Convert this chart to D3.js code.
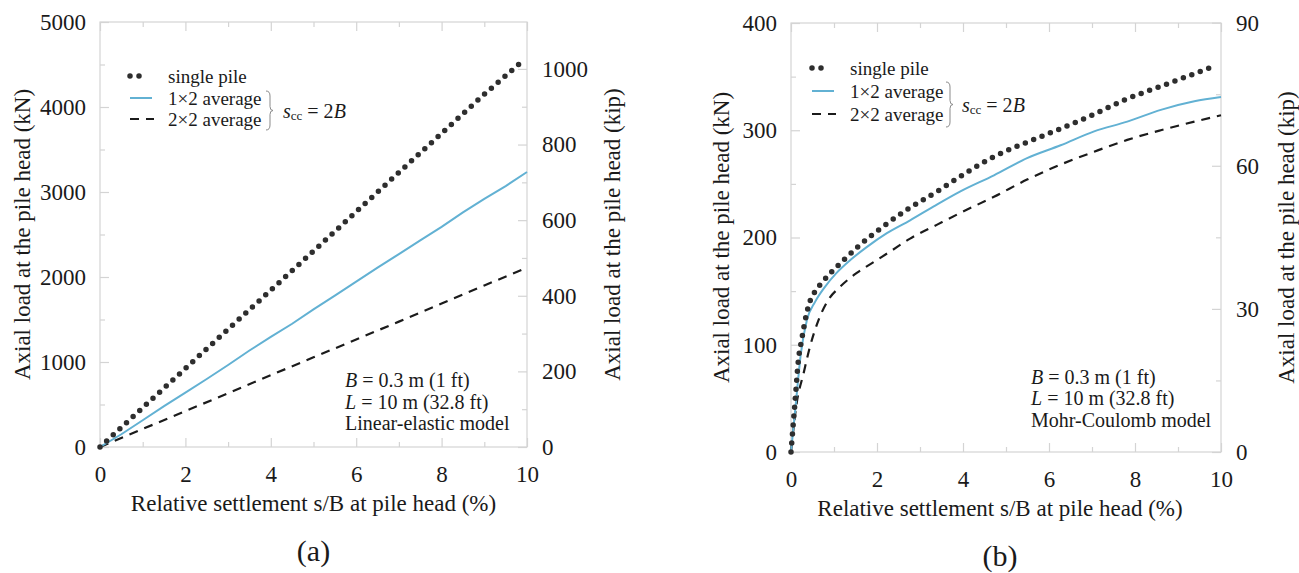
<!DOCTYPE html>
<html>
<head>
<meta charset="utf-8">
<script src="https://cdn.jsdelivr.net/npm/d3@7"></script>
<style>
  html, body { margin: 0; padding: 0; background: #fff; }
  svg { display: block; }
  svg text { font-family: 'Liberation Serif', serif !important; fill: #1a1a1a; }
</style>
</head>
<body>
<svg id="chart" width="1299" height="573" font-family="'Liberation Serif', serif"></svg>
<script>
// ---------------- DATA ----------------
// x: relative settlement s/B at pile head (%), y: axial load (kN)

// Panel (a) – Linear-elastic model
const aSingleX = [0, 1, 2, 3, 4, 5, 6, 7, 8, 9, 9.85];
const aSingleY = [0, 462, 924, 1386, 1845, 2305, 2768, 3230, 3690, 4150, 4520];
const aPairX = [0, 0.5, 1, 1.5, 2, 2.5, 3, 3.5, 4, 4.5, 5, 5.5, 6, 6.5, 7, 7.5, 8, 8.5, 9, 9.5, 10];
const aPairY = [0, 150, 315, 480, 640, 800, 965, 1135, 1295, 1450, 1620, 1780, 1945, 2110, 2270, 2430, 2590, 2760, 2920, 3070, 3235];
const aGroupX = [0, 1, 2, 3, 4, 5, 6, 7, 8, 9, 10];
const aGroupY = [0, 212, 422, 633, 845, 1055, 1265, 1475, 1688, 1900, 2110];

// Panel (b) – Mohr-Coulomb model
const bSingleX = [0, 0.05, 0.1, 0.17, 0.25, 0.33, 0.42, 0.55, 0.7, 0.9, 1.2, 1.6, 2.1, 2.7, 3.4, 4.1, 4.7, 5.5, 6.3, 7.0, 7.8, 8.6, 9.4, 9.8];
const bSingleY = [0, 25, 50, 85, 105, 123, 138, 149, 157, 166, 178, 193, 209, 226, 243, 261, 275, 289, 302, 314, 329, 341, 353, 359];
const bPairX = [0, 0.1, 0.23, 0.37, 0.56, 0.79, 1.06, 1.38, 1.76, 2.23, 2.77, 3.32, 3.94, 4.72, 5.49, 6.27, 7.05, 7.82, 8.6, 9.38, 10];
const bPairY = [0, 40, 92, 123, 140, 154, 167, 179, 191, 204, 216, 229, 243, 258, 274, 286, 299, 308, 319, 327, 331];
const bGroupX = [0, 0.13, 0.29, 0.44, 0.64, 0.87, 1.14, 1.53, 1.92, 2.31, 2.77, 3.4, 3.94, 4.72, 5.49, 6.27, 7.05, 7.82, 8.6, 9.38, 10];
const bGroupY = [0, 45, 73, 98, 123, 142, 154, 167, 177, 187, 199, 212, 223, 238, 254, 268, 280, 291, 300, 308, 314];

// Axis ticks
const xTicks = [0, 2, 4, 6, 8, 10];
const xMinor = [1, 3, 5, 7, 9];
const aKnTicks = [0, 1000, 2000, 3000, 4000, 5000];
const aKnMinor = [500, 1500, 2500, 3500, 4500];
const aKipTicks = [0, 200, 400, 600, 800, 1000];
const aKipMinor = [100, 300, 500, 700, 900];
const bKnTicks = [0, 100, 200, 300, 400];
const bKnMinor = [50, 150, 250, 350];
const bKipTicks = [0, 30, 60, 90];
const bKipMinor = [15, 45, 75];

const legendLabels = ["single pile", "1\u00d72 average", "2\u00d72 average"];
const KN_PER_KIP = 4.448;

// ---------------- DRAW ----------------
const FONT = "'Liberation Serif', serif";
const svg = d3.select("#chart");
svg.append("rect").attr("width", 1299).attr("height", 573).attr("fill", "#fff");

const FRAME = "#d4d4d4";

function txt(sel) {
  return sel.append("text").attr("font-family", FONT).style("font-family", FONT).attr("fill", "#1a1a1a");
}

function panel(cfg) {
  const g = svg.append("g");
  const x = d3.scaleLinear().domain([0, 10]).range([cfg.left, cfg.right]);
  const y = d3.scaleLinear().domain([0, cfg.yMax]).range([cfg.bottom, cfg.top]);
  const yk = d3.scaleLinear().domain([0, cfg.yMax / KN_PER_KIP]).range([cfg.bottom, cfg.top]);

  function styleAxis(sel, fs) {
    sel.attr("font-family", FONT);
    sel.select(".domain").remove();
    sel.selectAll(".tick line").attr("stroke", FRAME).attr("stroke-width", 1.2);
    sel.selectAll(".tick text").attr("font-size", fs).attr("fill", "#1a1a1a")
      .attr("font-family", FONT).style("font-family", FONT);
  }
  const tfs = 23;

  // frame
  g.append("rect").attr("x", cfg.left).attr("y", cfg.top)
    .attr("width", cfg.right - cfg.left).attr("height", cfg.bottom - cfg.top)
    .attr("fill", "none").attr("stroke", FRAME).attr("stroke-width", 1.2);

  // bottom
  g.append("g").attr("transform", `translate(0,${cfg.bottom})`)
    .call(d3.axisBottom(x).tickValues(xTicks).tickSize(-9).tickPadding(19).tickFormat(d3.format("d")))
    .call(s => styleAxis(s, tfs));
  g.append("g").attr("transform", `translate(0,${cfg.bottom})`)
    .call(d3.axisBottom(x).tickValues(xMinor).tickSize(-5).tickFormat(""))
    .call(s => styleAxis(s, tfs));
  // top
  g.append("g").attr("transform", `translate(0,${cfg.top})`)
    .call(d3.axisTop(x).tickValues(xTicks).tickSize(-9).tickFormat(""))
    .call(s => styleAxis(s, tfs));
  g.append("g").attr("transform", `translate(0,${cfg.top})`)
    .call(d3.axisTop(x).tickValues(xMinor).tickSize(-5).tickFormat(""))
    .call(s => styleAxis(s, tfs));
  // left
  g.append("g").attr("transform", `translate(${cfg.left},0)`)
    .call(d3.axisLeft(y).tickValues(cfg.knTicks).tickSize(-9).tickPadding(14).tickFormat(d3.format("d")))
    .call(s => styleAxis(s, tfs));
  g.append("g").attr("transform", `translate(${cfg.left},0)`)
    .call(d3.axisLeft(y).tickValues(cfg.knMinor).tickSize(-5).tickFormat(""))
    .call(s => styleAxis(s, tfs));
  // right (kip)
  g.append("g").attr("transform", `translate(${cfg.right},0)`)
    .call(d3.axisRight(yk).tickValues(cfg.kipTicks).tickSize(-9).tickPadding(15).tickFormat(d3.format("d")))
    .call(s => styleAxis(s, tfs));
  g.append("g").attr("transform", `translate(${cfg.right},0)`)
    .call(d3.axisRight(yk).tickValues(cfg.kipMinor).tickSize(-5).tickFormat(""))
    .call(s => styleAxis(s, tfs));

  // axis titles
  const midY = (cfg.top + cfg.bottom) / 2;
  txt(g).attr("transform", `translate(${cfg.leftTitleX},${midY}) rotate(-90)`)
    .attr("text-anchor", "middle").attr("dominant-baseline", "central")
    .attr("font-size", 23).text("Axial load at the pile head (kN)");
  txt(g).attr("transform", `translate(${cfg.rightTitleX},${midY}) rotate(-90)`)
    .attr("text-anchor", "middle").attr("dominant-baseline", "central")
    .attr("font-size", 23).text("Axial load at the pile head (kip)");
  txt(g).attr("x", (cfg.left + cfg.right) / 2 + cfg.xTitleShift).attr("y", cfg.bottom + 64)
    .attr("text-anchor", "middle").attr("font-size", 23)
    .text("Relative settlement s/B at pile head (%)");
  txt(g).attr("x", (cfg.left + cfg.right) / 2 + cfg.xTitleShift).attr("y", cfg.bottom + 114)
    .attr("text-anchor", "middle").attr("font-size", 30).text(cfg.tag);

  // series
  const line = d3.line().x(d => x(d[0])).y(d => y(d[1])).curve(cfg.curve);
  const zip = (xs, ys) => xs.map((v, i) => [v, ys[i]]);

  g.append("path").datum(zip(cfg.groupX, cfg.groupY)).attr("d", line)
    .attr("fill", "none").attr("stroke", "#1b1b1b").attr("stroke-width", 2.2)
    .attr("stroke-dasharray", "9 7");
  g.append("path").datum(zip(cfg.pairX, cfg.pairY)).attr("d", line)
    .attr("fill", "none").attr("stroke", "#62b1d3").attr("stroke-width", 2);
  g.append("path").datum(zip(cfg.singleX, cfg.singleY)).attr("d", line)
    .attr("fill", "none").attr("stroke", "#2e2e2e").attr("stroke-width", 5.5)
    .attr("stroke-linecap", "round").attr("stroke-dasharray", "0 9");

  // legend
  const L = cfg.legend;
  const rows = L.rows;
  g.append("path").attr("d", `M${L.x0},${rows[0]}H${L.x0 + 18}`)
    .attr("stroke", "#2e2e2e").attr("stroke-width", 5.5).attr("stroke-linecap", "round")
    .attr("stroke-dasharray", "0 9");
  g.append("path").attr("d", `M${L.x0},${rows[1]}H${L.x0 + 22}`)
    .attr("stroke", "#62b1d3").attr("stroke-width", 2);
  g.append("path").attr("d", `M${L.x0},${rows[2]}H${L.x0 + 24}`)
    .attr("stroke", "#1b1b1b").attr("stroke-width", 2.2).attr("stroke-dasharray", "9 7");
  legendLabels.forEach((t, i) => {
    txt(g).attr("x", L.tx).attr("y", rows[i]).attr("dominant-baseline", "central")
      .attr("font-size", 19).text(t);
  });
  // brace
  const bx = L.bx, b0 = L.b0, b1 = L.b1, bm = (b0 + b1) / 2;
  g.append("path")
    .attr("d", `M${bx},${b0} Q${bx + 4},${b0} ${bx + 4},${b0 + 5} L${bx + 4},${bm - 4} Q${bx + 4},${bm} ${bx + 7},${bm} Q${bx + 4},${bm} ${bx + 4},${bm + 4} L${bx + 4},${b1 - 5} Q${bx + 4},${b1} ${bx},${b1}`)
    .attr("fill", "none").attr("stroke", "#8a8a8a").attr("stroke-width", 1);
  const st = txt(g).attr("x", L.sx).attr("y", bm).attr("dominant-baseline", "central")
    .attr("font-size", 20);
  st.append("tspan").attr("font-style", "italic").text("s");
  st.append("tspan").attr("font-size", 13).attr("dy", 4).text("cc");
  st.append("tspan").attr("dy", -4).text(" = 2");
  st.append("tspan").attr("font-style", "italic").text("B");

  // annotation
  const A = cfg.note;
  const n1 = txt(g).attr("x", A.x).attr("y", A.rows[0]).attr("dominant-baseline", "central").attr("font-size", 20);
  n1.append("tspan").attr("font-style", "italic").text("B");
  n1.append("tspan").text(" = 0.3 m (1 ft)");
  const n2 = txt(g).attr("x", A.x).attr("y", A.rows[1]).attr("dominant-baseline", "central").attr("font-size", 20);
  n2.append("tspan").attr("font-style", "italic").text("L");
  n2.append("tspan").text(" = 10 m (32.8 ft)");
  txt(g).attr("x", A.x).attr("y", A.rows[2]).attr("dominant-baseline", "central").attr("font-size", 20)
    .text(A.model);
}

panel({
  left: 100, right: 527, top: 22, bottom: 447, yMax: 5000,
  knTicks: aKnTicks, knMinor: aKnMinor, kipTicks: aKipTicks, kipMinor: aKipMinor,
  leftTitleX: 22, rightTitleX: 612, xTitleShift: 0, tag: "(a)",
  singleX: aSingleX, singleY: aSingleY, pairX: aPairX, pairY: aPairY, groupX: aGroupX, groupY: aGroupY,
  curve: d3.curveLinear,
  legend: { x0: 130, tx: 168, rows: [76, 98, 119], bx: 266, b0: 91, b1: 130, sx: 283 },
  note: { x: 345, rows: [380, 402, 423], model: "Linear-elastic model" }
});

panel({
  left: 791, right: 1221, top: 23, bottom: 452, yMax: 400,
  knTicks: bKnTicks, knMinor: bKnMinor, kipTicks: bKipTicks, kipMinor: bKipMinor,
  leftTitleX: 721, rightTitleX: 1286, xTitleShift: -6, tag: "(b)",
  singleX: bSingleX, singleY: bSingleY, pairX: bPairX, pairY: bPairY, groupX: bGroupX, groupY: bGroupY,
  curve: d3.curveMonotoneX,
  legend: { x0: 812, tx: 850, rows: [68, 91, 114], bx: 946, b0: 82, b1: 127, sx: 962 },
  note: { x: 1031, rows: [377, 398, 420], model: "Mohr-Coulomb model" }
});
</script>
</body>
</html>
